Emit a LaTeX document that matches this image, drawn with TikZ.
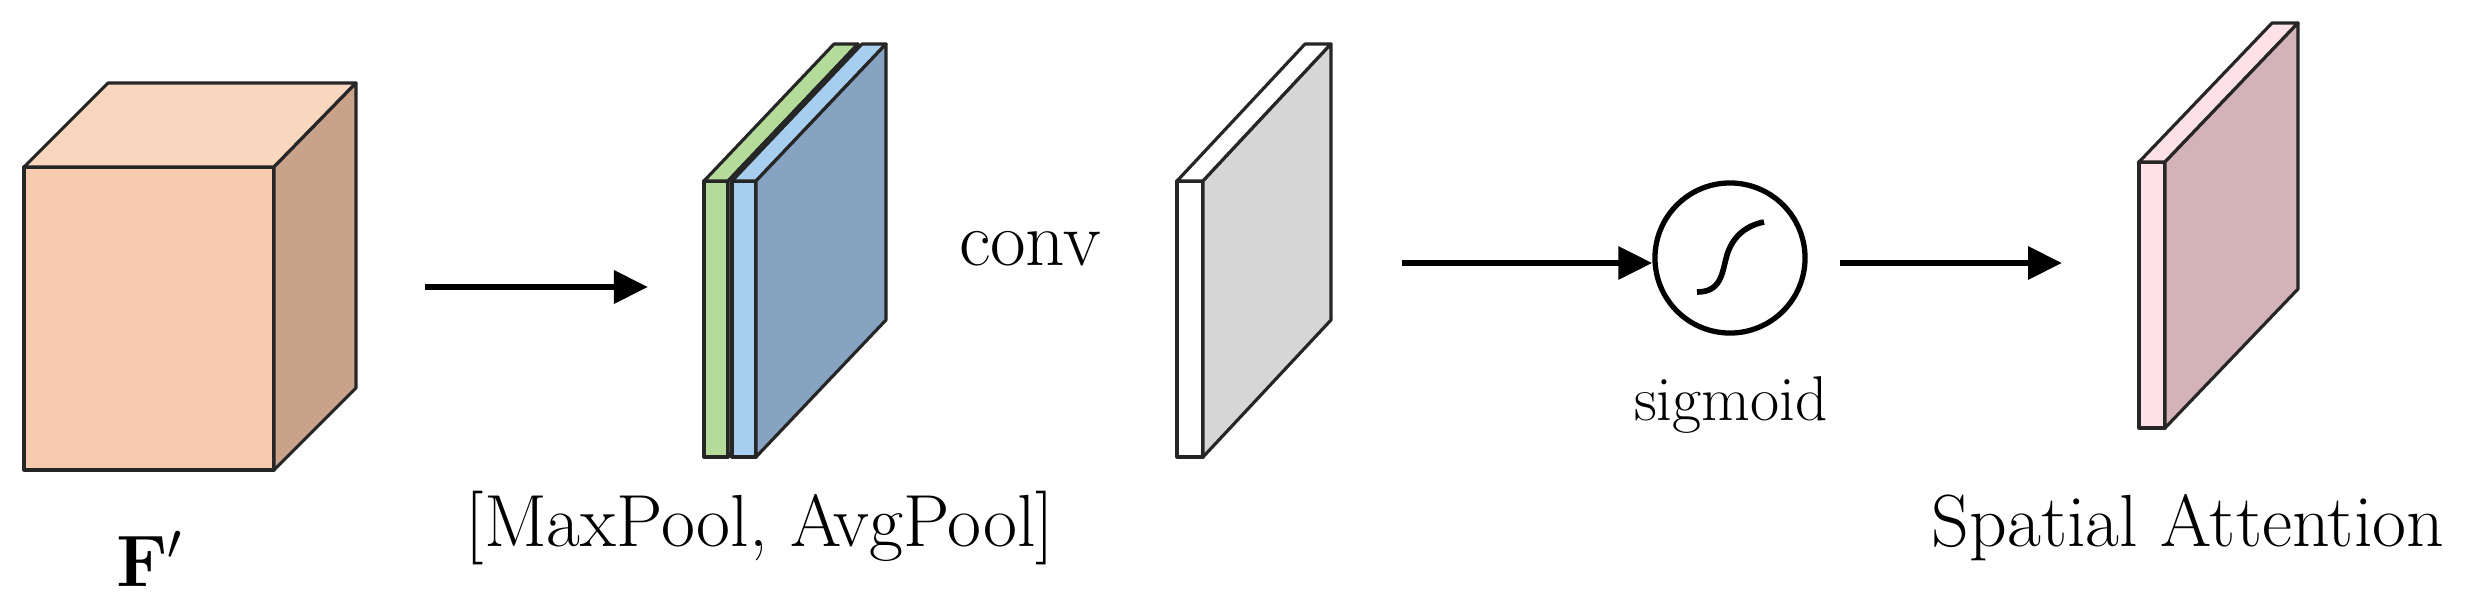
\documentclass[tikz,border=0pt]{standalone}
\usetikzlibrary{arrows.meta}
\definecolor{cfront}{HTML}{F7CBAF}
\definecolor{ctop}{HTML}{F9D7BF}
\definecolor{cside}{HTML}{C9A28A}
\definecolor{cgreen}{HTML}{B5DB9A}
\definecolor{clblue}{HTML}{A7CDEF}
\definecolor{cblue}{HTML}{86A3C1}
\definecolor{cgray}{HTML}{D6D6D6}
\definecolor{cpinkf}{HTML}{FDE1E6}
\definecolor{cpinks}{HTML}{D4B3B8}
\begin{document}
\begin{tikzpicture}[x=0.01cm,y=-0.01cm,
  face/.style={draw=black!85,line width=0.9pt,line join=round},
  arr/.style={line width=1.8pt,-{Triangle[length=0.34cm,width=0.32cm]}},
  lbl/.style={font=\fontsize{21}{25}\selectfont,inner sep=0pt}]
\useasboundingbox (0,0) rectangle (2469,615);
\fill[white] (0,0) rectangle (2469,615);
% cube F'
\draw[face,fill=cfront] (24,167) rectangle (274,470);
\draw[face,fill=ctop] (24,167) -- (108,83) -- (356,83) -- (274,167) -- cycle;
\draw[face,fill=cside] (274,167) -- (356,83) -- (356,388) -- (274,470) -- cycle;
\node[lbl,font=\fontsize{21}{25}\selectfont] (F) at (150,559) {$\mathbf{F}'$};
% pooled slabs
\draw[face,fill=cgreen] (704,181) rectangle (728,457);
\draw[face,fill=cgreen] (704,181) -- (834,44) -- (858,44) -- (728,181) -- cycle;
\draw[face,fill=cgreen!70!black] (728,181) -- (858,44) -- (858,320) -- (728,457) -- cycle;
\draw[face,fill=clblue] (732,181) rectangle (756,457);
\draw[face,fill=clblue] (732,181) -- (862,44) -- (886,44) -- (756,181) -- cycle;
\draw[face,fill=cblue] (756,181) -- (886,44) -- (886,320) -- (756,457) -- cycle;
\node[lbl] (pool) at (760,528) {[MaxPool, AvgPool]};
\node[lbl,font=\fontsize{22}{26}\selectfont] (conv) at (1030,249) {conv};
% conv slab
\draw[face,fill=white] (1177,181) rectangle (1203,457);
\draw[face,fill=white] (1177,181) -- (1305,44) -- (1331,44) -- (1203,181) -- cycle;
\draw[face,fill=cgray] (1203,181) -- (1331,44) -- (1331,320) -- (1203,457) -- cycle;
% sigmoid
\node[draw,circle,line width=1.5pt,minimum size=1.5cm,inner sep=0pt] (sig) at (1730,258) {};
\draw[line width=1.6pt] (1697,292) .. controls (1722,292) and (1722,272) .. (1727,255)
  .. controls (1733,235) and (1748,225) .. (1764,222);
\node[lbl,font=\fontsize{18}{21}\selectfont] (sigl) at (1731,405) {sigmoid};
% attention slab
\draw[face,fill=cpinkf] (2139,162) rectangle (2165,428);
\draw[face,fill=cpinkf] (2139,162) -- (2272,23) -- (2298,23) -- (2165,162) -- cycle;
\draw[face,fill=cpinks] (2165,162) -- (2298,23) -- (2298,289) -- (2165,428) -- cycle;
\node[lbl] (sa) at (2188,528) {Spatial Attention};
% arrows
\coordinate (a1s) at (425,287); \coordinate (a1e) at (648,287);
\coordinate (a2s) at (1402,263);
\coordinate (a3s) at (1840,263);
\coordinate (a3e) at (2062,263);
\draw[arr] (a1s) -- (a1e);
\draw[arr] (a2s) -- (a2s -| sig.west);
\draw[arr] (a3s) -- (a3e);
\end{tikzpicture}
\end{document}
